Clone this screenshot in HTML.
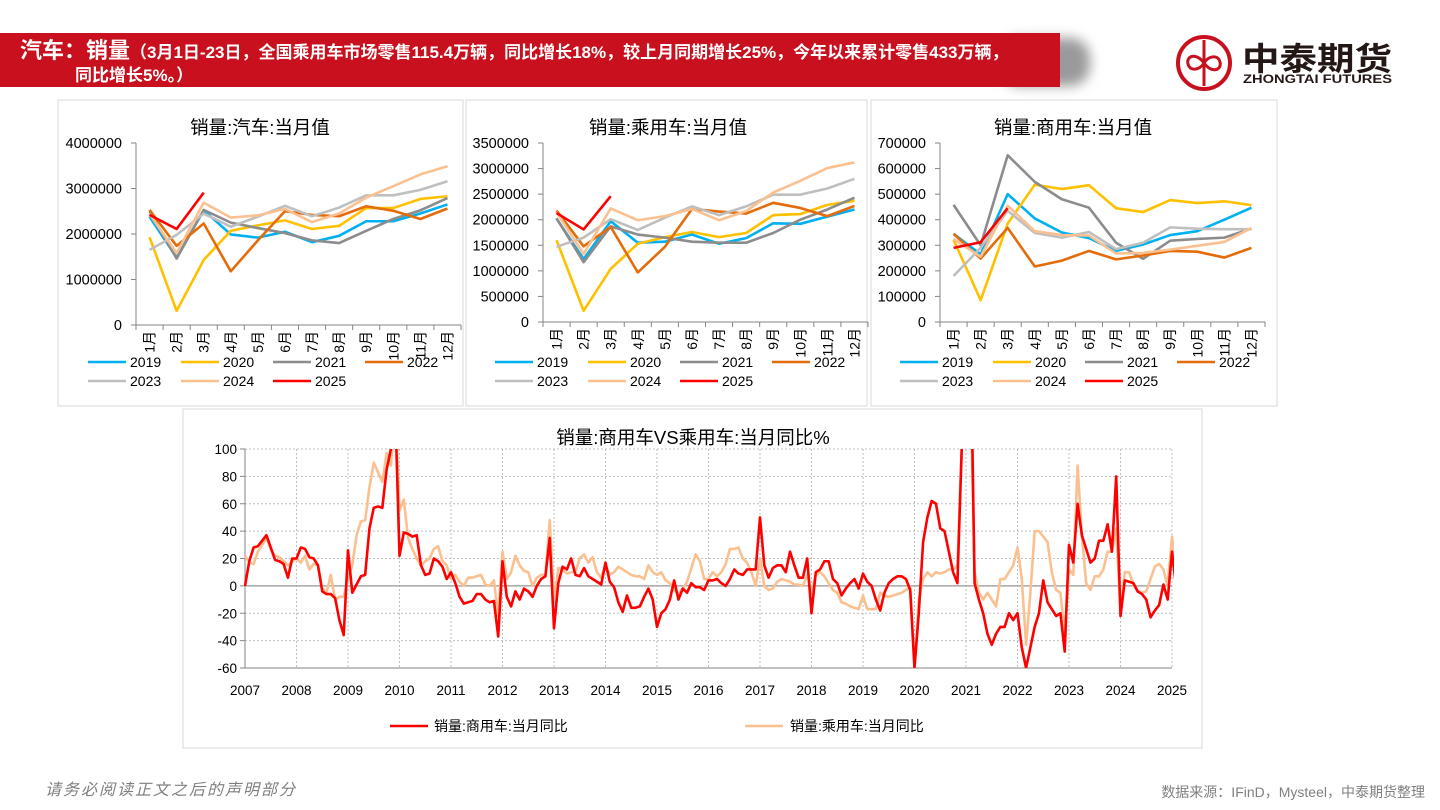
<!DOCTYPE html>
<html><head><meta charset="utf-8">
<style>
body{margin:0;width:1440px;height:810px;background:#fff;overflow:hidden;font-family:"Liberation Sans","Noto Sans CJK SC",sans-serif;}
svg{position:absolute;left:0;top:0}
</style></head>
<body>
<svg id="s" width="1440" height="810" viewBox="0 0 1440 810" xmlns="http://www.w3.org/2000/svg" font-family="'Liberation Sans','Noto Sans CJK SC',sans-serif">
<defs>
<filter id="blur" x="-20%" y="-50%" width="140%" height="200%"><feGaussianBlur stdDeviation="6"/></filter>
<clipPath id="clipB"><rect x="244" y="449" width="930" height="219"/></clipPath>
</defs>
<g>
<rect x="1000" y="38" width="90" height="48" rx="20" fill="#9a9a9a" filter="url(#blur)"/>
<rect x="0" y="33" width="1060" height="54" fill="#c8101e"/>
<text x="20" y="58" fill="#fff" font-weight="bold" font-size="22">汽车：销量<tspan font-size="17">（3月1日-23日，全国乘用车市场零售115.4万辆，同比增长18%，较上月同期增长25%，今年以来累计零售433万辆，</tspan></text>
<text x="75" y="81" fill="#fff" font-weight="bold" font-size="17">同比增长5%。）</text>
</g>
<g>
<circle cx="1204" cy="63" r="26" fill="none" stroke="#c8101e" stroke-width="4"/>
<line x1="1204" y1="40" x2="1204" y2="86" stroke="#c8101e" stroke-width="3"/>
<path d="M1204 63 C1196 52,1186 56,1188 64 C1190 72,1200 70,1204 63 C1208 56,1218 54,1220 62 C1222 70,1212 74,1204 63Z" fill="none" stroke="#c8101e" stroke-width="3"/>
<text x="1242" y="70" font-size="32" font-weight="bold" fill="#231815" textLength="150" lengthAdjust="spacingAndGlyphs">中泰期货</text>
<text x="1243" y="83" font-size="11.5" font-weight="bold" fill="#231815" textLength="149" lengthAdjust="spacingAndGlyphs">ZHONGTAI FUTURES</text>
</g>
<rect x="58" y="100" width="405" height="306" fill="none" stroke="#d9d9d9"/>
<rect x="466" y="100" width="401" height="306" fill="none" stroke="#d9d9d9"/>
<rect x="871" y="100" width="406" height="306" fill="none" stroke="#d9d9d9"/>
<rect x="183" y="409" width="1019" height="339" fill="none" stroke="#d9d9d9"/>
<g id="charts"></g>
<text x="45" y="795" font-size="16" fill="#7f7f7f" font-style="italic" letter-spacing="2">请务必阅读正文之后的声明部分</text>
<text x="1425" y="797" font-size="14" fill="#7f7f7f" text-anchor="end">数据来源：IFinD，Mysteel，中泰期货整理</text>
</svg>
<script>
const months=['1月','2月','3月','4月','5月','6月','7月','8月','9月','10月','11月','12月'];
const yearsTop=['2019','2020','2021','2022','2023','2024','2025'];
const colorsTop=['#00b0f0','#ffc000','#8c8c8c','#e46c0a','#bfbfbf','#fac090','#ff0000'];
// 汽车
const auto2019=[2380000,1480000,2520000,1990000,1920000,2050000,1820000,1960000,2280000,2280000,2450000,2650000];
const auto2020=[1930000,310000,1430000,2070000,2190000,2300000,2110000,2180000,2570000,2570000,2770000,2830000];
const auto2021=[2500000,1460000,2530000,2250000,2130000,2020000,1860000,1800000,2070000,2330000,2520000,2790000];
const auto2022=[2530000,1740000,2230000,1180000,1860000,2500000,2420000,2390000,2610000,2510000,2330000,2560000];
const auto2023=[1650000,1980000,2450000,2160000,2380000,2620000,2390000,2580000,2850000,2850000,2970000,3160000];
const auto2024=[2440000,1580000,2690000,2360000,2410000,2550000,2260000,2450000,2800000,3050000,3310000,3490000];
const auto2025=[2420000,2110000,2910000];
const autoTicks=[0,1000000,2000000,3000000,4000000];
// 乘用车
const pass2019=[2020000,1230000,1970000,1550000,1570000,1710000,1530000,1640000,1930000,1920000,2060000,2200000];
const pass2020=[1600000,220000,1040000,1530000,1660000,1760000,1660000,1740000,2090000,2110000,2290000,2370000];
const pass2021=[2030000,1170000,1870000,1710000,1650000,1570000,1550000,1550000,1740000,2000000,2200000,2430000];
const pass2022=[2180000,1480000,1860000,970000,1470000,2210000,2160000,2120000,2330000,2230000,2070000,2270000];
const pass2023=[1470000,1650000,2010000,1800000,2040000,2260000,2090000,2260000,2490000,2490000,2610000,2800000];
const pass2024=[2150000,1330000,2220000,1990000,2070000,2210000,1990000,2170000,2530000,2760000,3010000,3120000];
const pass2025=[2130000,1810000,2460000];
const passTicks=[0,500000,1000000,1500000,2000000,2500000,3000000,3500000];
// 商用车
const comm2019=[345000,265000,500000,405000,350000,328000,278000,303000,340000,355000,400000,447000];
const comm2020=[322000,85000,385000,537000,520000,535000,445000,430000,477000,465000,472000,457000];
const comm2021=[458000,300000,652000,548000,480000,447000,310000,247000,318000,325000,330000,365000];
const comm2022=[345000,248000,368000,217000,240000,278000,245000,260000,278000,275000,252000,290000];
const comm2023=[180000,290000,435000,348000,330000,352000,285000,310000,370000,365000,363000,363000];
const comm2024=[325000,255000,455000,355000,340000,338000,268000,270000,283000,298000,313000,368000];
const comm2025=[290000,312000,445000];
const commTicks=[0,100000,200000,300000,400000,500000,600000,700000];
// 同比 (monthly from 2007-01)
const yoyYears=['2007','2008','2009','2010','2011','2012','2013','2014','2015','2016','2017','2018','2019','2020','2021','2022','2023','2024','2025'];
const yoyTicks=[-60,-40,-20,0,20,40,60,80,100];
const commYoy=[
0,18,28,29,33,37,28,19,18,16,6,20,
20,28,27,21,20,15,-4,-6,-6,-9,-25,-36,
26,-5,1,7,8,42,57,58,57,85,100,130,
22,39,38,36,37,15,8,9,20,18,14,5,
10,2,-8,-13,-12,-11,-6,-6,-10,-12,-11,-37,
18,-8,-15,-4,-10,-2,-4,-8,0,5,7,35,
-31,2,14,12,20,8,7,13,7,5,3,1,
17,3,-1,-12,-19,-7,-16,-16,-15,-8,-2,-10,
-30,-20,-17,-10,4,-10,-2,-5,2,-1,-1,-3,
4,4,5,2,0,5,12,9,8,12,12,12,
50,15,6,13,15,15,10,25,15,6,6,20,
-20,10,12,18,18,5,2,-7,-2,2,5,-2,
9,3,0,-10,-18,-5,2,5,7,7,5,-3,
-60,-20,32,50,62,60,42,40,25,10,2,100,
200,200,2,-10,-20,-35,-43,-35,-30,-30,-20,-25,
-20,-45,-60,-45,-30,-20,4,-12,-17,-22,-20,-48,
30,17,60,37,27,17,20,33,33,45,25,80,
-22,4,3,2,-4,-6,-10,-23,-18,-14,1,-10,
25,-2];
const passYoy=[
22,17,16,25,30,35,27,22,21,18,15,18,
20,17,22,12,16,15,-2,-5,8,-10,-8,-8,
5,15,37,47,48,72,90,83,76,97,88,130,
55,63,35,27,20,15,18,20,27,29,18,15,
5,8,3,0,6,6,7,8,1,0,4,-22,
25,5,10,22,15,11,10,0,6,8,8,48,
-12,13,12,9,10,10,20,23,17,21,10,6,
15,8,10,14,12,10,8,7,7,5,15,10,
8,10,4,2,-3,-6,-2,3,13,23,18,5,
5,10,7,10,16,27,27,28,20,17,10,0,
20,0,-3,-2,3,5,4,3,1,1,0,8,
-5,8,10,7,2,-3,-5,-12,-13,-15,-16,-17,
-7,-17,-17,-17,-5,-7,-8,-7,-6,-5,-3,-1,
-60,-10,5,10,7,10,9,10,12,12,15,100,
200,150,10,-5,-10,-5,-10,-15,5,5,10,15,
28,5,-43,-5,40,40,36,32,10,-3,-5,-35,
12,8,88,37,2,-3,7,7,12,25,25,42,
-20,10,10,1,-4,-5,-4,5,14,16,12,0,
36,10];

const NS='http://www.w3.org/2000/svg';
const root=document.getElementById('charts');
function mk(tag,attrs,parent){const e=document.createElementNS(NS,tag);for(const k in attrs)e.setAttribute(k,attrs[k]);(parent||root).appendChild(e);return e;}

function topChart(cfg){
  const g=mk('g',{});
  
  
  const {x0,x1,y0,y1,max}=cfg;
  const cw=(x1-x0)/12;
  const xs=i=>x0+cw*(i+0.5);
  const ys=v=>y0-(v/max)*(y0-y1);
  const t=mk('text',{x:cfg.tx,y:134,'font-size':18.5,'text-anchor':'middle',fill:'#000'},g);
  t.textContent=cfg.title;
  
  
  mk('line',{x1:x0,y1:y1,x2:x0,y2:y0,stroke:'#868686','stroke-width':1},g);
  cfg.ticks.forEach(v=>{
    mk('line',{x1:x0-5,y1:ys(v),x2:x0,y2:ys(v),stroke:'#868686'},g);
    const l=mk('text',{x:x0-14,y:ys(v)+5,'font-size':14.5,'text-anchor':'end',fill:'#000'},g);
    l.textContent=v;
    
    
  });
  mk('line',{x1:x0,y1:y0,x2:x1,y2:y0,stroke:'#868686'},g);
  for(let i=0;i<=12;i++)mk('line',{x1:x0+cw*i,y1:y0,x2:x0+cw*i,y2:y0+5,stroke:'#868686'},g);
  months.forEach((m,i)=>{
    const l=mk('text',{x:0,y:0,'font-size':14,'text-anchor':'end',fill:'#000',transform:`translate(${xs(i)+5},${y0+6}) rotate(-90)`},g);
    l.textContent=m;
    
    
  });
  cfg.series.forEach((arr,k)=>{
    const p=mk('polyline',{points:arr.map((v,i)=>xs(i)+','+ys(v)).join(' '),fill:'none',stroke:colorsTop[k],'stroke-width':2.6,'stroke-linejoin':'round'},g);
    
    
  });
  const cols=[0,93,185,277];
  yearsTop.forEach((y,k)=>{
    const cx=cfg.lx+cols[k%4], cy=k<4?367:386;
    const le=mk('g',{},g);
    
    
    mk('line',{x1:cx,y1:cy-5,x2:cx+38,y2:cy-5,stroke:colorsTop[k],'stroke-width':2.6},le);
    const tt=mk('text',{x:cx+42,y:cy,'font-size':14,fill:'#000'},le);
    tt.textContent=y;
  });
}
topChart({name:'chart-auto-monthly',title:'销量:汽车:当月值',tx:260,x0:136,x1:461,y0:325,y1:143,max:4000000,ticks:autoTicks,lx:88,
  series:[auto2019,auto2020,auto2021,auto2022,auto2023,auto2024,auto2025]});
topChart({name:'chart-passenger-monthly',title:'销量:乘用车:当月值',tx:668,x0:543,x1:868,y0:322,y1:143,max:3500000,ticks:passTicks,lx:495,
  series:[pass2019,pass2020,pass2021,pass2022,pass2023,pass2024,pass2025]});
topChart({name:'chart-commercial-monthly',title:'销量:商用车:当月值',tx:1073,x0:940,x1:1265,y0:322,y1:143,max:700000,ticks:commTicks,lx:900,
  series:[comm2019,comm2020,comm2021,comm2022,comm2023,comm2024,comm2025]});

// bottom chart
(function(){
  const g=mk('g',{});
  
  
  const x0=245, yw=51.5, y0=668, y1=449, vmin=-60, vmax=100;
  const xs=i=>x0+i*yw/12;
  const ys=v=>y0-(v-vmin)/(vmax-vmin)*(y0-y1);
  const t=mk('text',{x:693,y:444,'font-size':18.5,'text-anchor':'middle',fill:'#000'},g);
  t.textContent='销量:商用车VS乘用车:当月同比%';
  
  
  yoyTicks.forEach(v=>{
    if(v!==vmin&&v!==0) mk('line',{x1:x0,y1:ys(v),x2:1172,y2:ys(v),stroke:'#bfbfbf','stroke-dasharray':'2,2'},g);
    mk('line',{x1:x0-5,y1:ys(v),x2:x0,y2:ys(v),stroke:'#868686'},g);
    const l=mk('text',{x:x0-8,y:ys(v)+5,'font-size':13.5,'text-anchor':'end',fill:'#000'},g);
    l.textContent=v;
    
    
  });
  yoyYears.forEach((y,i)=>{
    const x=x0+i*yw;
    if(i>0) mk('line',{x1:x,y1:y1,x2:x,y2:y0,stroke:'#bfbfbf','stroke-dasharray':'2,2'},g);
    const l=mk('text',{x:x,y:695,'font-size':13.5,'text-anchor':'middle',fill:'#000'},g);
    l.textContent=y;
    
    
  });
  mk('line',{x1:x0,y1:y1,x2:x0,y2:y0,stroke:'#868686'},g);
  mk('line',{x1:x0,y1:y0,x2:1172,y2:y0,stroke:'#868686'},g);
  mk('line',{x1:x0,y1:ys(0),x2:1172,y2:ys(0),stroke:'#a6a6a6','stroke-width':1.5},g);
  const cg=mk('g',{'clip-path':'url(#clipB)'},g);
  const p2=mk('polyline',{points:passYoy.map((v,i)=>xs(i)+','+ys(v)).join(' '),fill:'none',stroke:'#fac090','stroke-width':2.6,'stroke-linejoin':'round'},cg);
  
  
  const p1=mk('polyline',{points:commYoy.map((v,i)=>xs(i)+','+ys(v)).join(' '),fill:'none',stroke:'#ff0000','stroke-width':2.6,'stroke-linejoin':'round'},cg);
  
  
  const l1=mk('g',{},g);
  
  
  mk('line',{x1:390,y1:726,x2:428,y2:726,stroke:'#ff0000','stroke-width':2.6},l1);
  mk('text',{x:434,y:731,'font-size':14,fill:'#000'},l1).textContent='销量:商用车:当月同比';
  const l2=mk('g',{},g);
  
  
  mk('line',{x1:745,y1:726,x2:783,y2:726,stroke:'#fac090','stroke-width':2.6},l2);
  mk('text',{x:790,y:731,'font-size':14,fill:'#000'},l2).textContent='销量:乘用车:当月同比';
})();
</script>
</body></html>
